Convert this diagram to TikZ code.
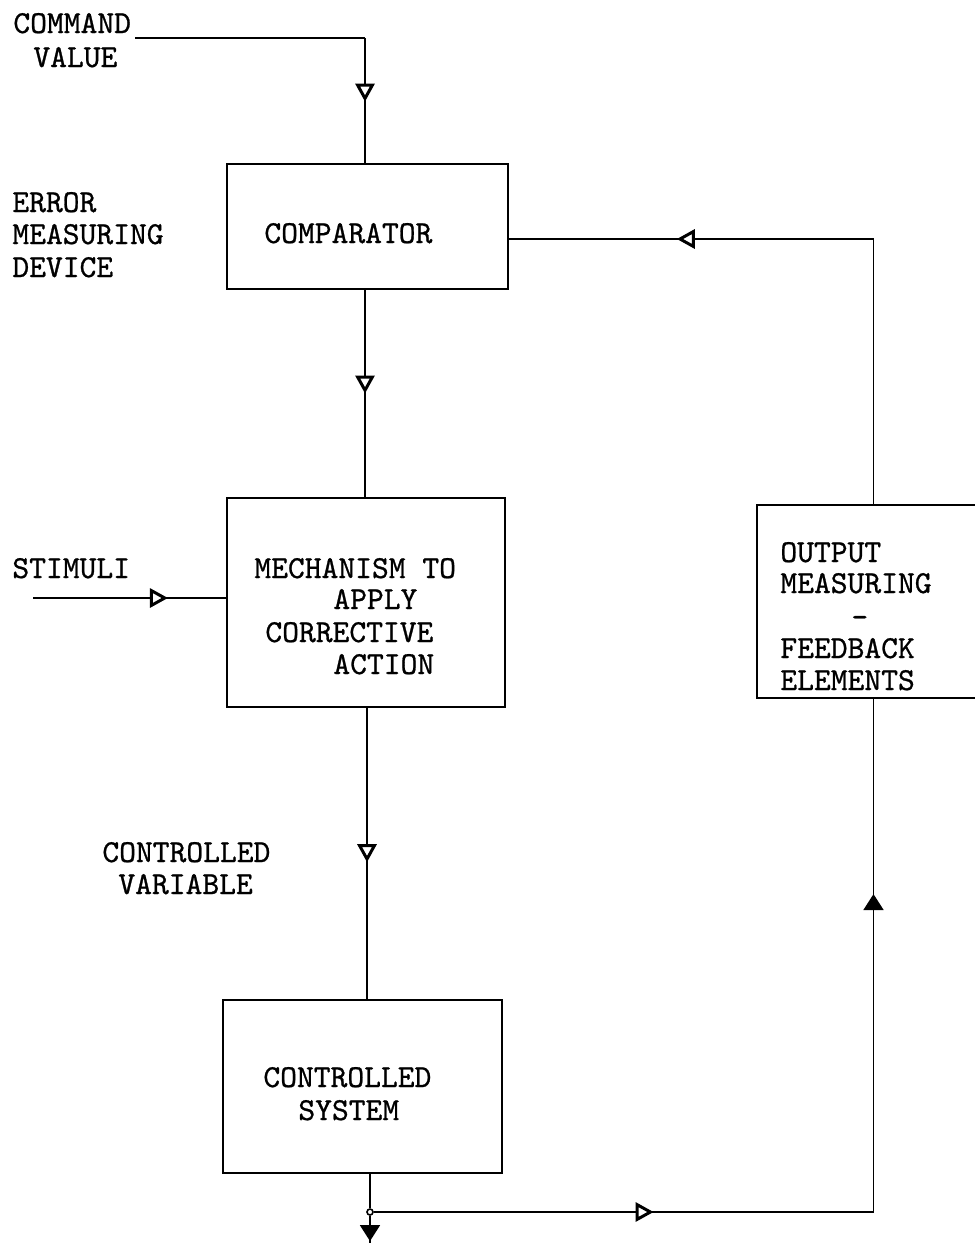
\documentclass[tikz,border=0pt]{standalone}
\usepackage{fontspec}
\newfontfamily\tw{lmmono10-regular.otf}[FakeBold=0.8]
\usetikzlibrary{arrows.meta,decorations.markings,calc}
\begin{document}
\begin{tikzpicture}[x=0.5pt,y=-0.5pt,
  box/.style={draw, line width=1.2pt, inner sep=0pt},
  txt/.style={anchor=base west, inner sep=0pt, font=\tw\fontsize{16pt}{18pt}\selectfont},
  conn/.style={line width=0.9pt},
  hconn/.style={line width=1.3pt},
  tipat/.style={postaction={decorate}, decoration={markings,
      mark=at position #1 with {\arrow{Triangle[open,length=9pt,width=9.5pt,line width=1.5pt,fill=white]}}}},
  tipatf/.style={postaction={decorate}, decoration={markings,
      mark=at position #1 with {\arrow{Triangle[length=8pt,width=10pt]}}}}
]
\useasboundingbox (0,0) rectangle (975,1243);
\clip (0,0) rectangle (975,1243);

% boxes
\node[box, minimum width=140.5pt, minimum height=62.5pt] (comp) at (367.5,226.5) {};
\node[box, minimum width=139pt, minimum height=104.5pt] (mech) at (366,602.5) {};
\node[box, minimum width=139.5pt, minimum height=86.5pt] (ctrl) at (362.5,1086.5) {};
\node[box, minimum width=116.5pt, minimum height=96.5pt] (fb) at (873.5,601.5) {};

% texts
\node[txt] (tcmd) at (13,33) {COMMAND};
\node[txt] (tval) at (33,67) {VALUE};
\node[txt] (terr) at (12,212) {ERROR};
\node[txt] (tmeas) at (12,244) {MEASURING};
\node[txt] (tdev) at (12,277) {DEVICE};
\node[txt] (tcomp) at (264,243) {COMPARATOR};
\node[txt] (tstim) at (12,578) {STIMULI};
\node[txt] (tm1) at (254,578) {MECHANISM TO};
\node[txt] (tm2) at (333,609) {APPLY};
\node[txt] (tm3) at (265,642) {CORRECTIVE};
\node[txt] (tm4) at (333,674) {ACTION};
\node[txt] (tcv1) at (102,862) {CONTROLLED};
\node[txt] (tcv2) at (118,894) {VARIABLE};
\node[txt] (tcs1) at (263,1087) {CONTROLLED};
\node[txt] (tcs2) at (298,1120) {SYSTEM};
\node[txt] (tf1) at (780,562) {OUTPUT};
\node[txt] (tf2) at (780,593) {MEASURING};
\node[txt] (tf3) at (851,627) {-};
\node[txt] (tf4) at (780,658) {FEEDBACK};
\node[txt] (tf5) at (780,690) {ELEMENTS};

% coordinates
\coordinate (cmd) at (135,38);
\coordinate (cmdc) at (365,38);
\coordinate (mx) at (367,0);
\coordinate (stim) at (33,598);
\coordinate (fbl) at (0,239);
\coordinate (out) at (370,1243);
\node[circle, draw, line width=0.8pt, fill=white, inner sep=0pt, minimum size=3pt] (jn) at (370,1212) {};

% connectors
\draw[hconn] (cmd) -- (cmdc);
\draw[conn, tipat=0.51] (cmdc) -- (cmdc |- comp.north);
\draw[conn, tipat=0.5] (comp.south -| cmdc) -- (mech.north -| cmdc);
\draw[hconn, tipat=0.7] (stim) -- (stim -| mech.west);
\draw[conn, tipat=0.53] (mech.south -| mx) -- (ctrl.north -| mx);
\draw[conn] (ctrl.south -| jn) -- (jn);
\draw[conn, tipatf=0.93] (jn) -- (out);
\draw[hconn, tipat=0.56] (jn) -- (jn -| fb.south);
\draw[conn, tipatf=0.62] (jn -| fb.south) -- (fb.south);
\draw[conn] (fb.north) -- (fb.north |- fbl);
\draw[hconn, tipat=0.54] (fb.north |- fbl) -- (comp.east |- fbl);
\end{tikzpicture}
\end{document}
